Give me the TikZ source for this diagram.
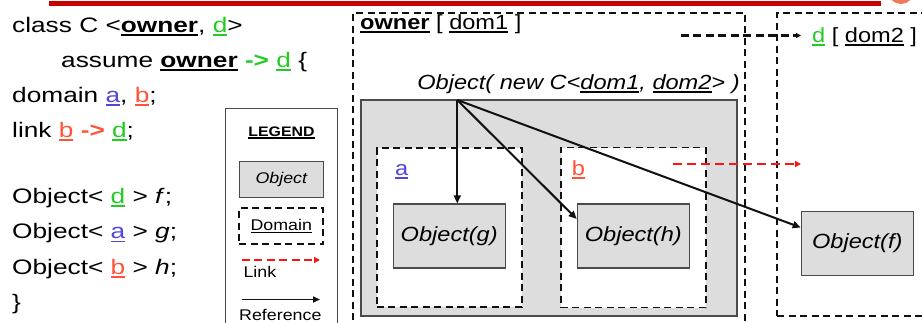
\documentclass[tikz,border=0pt]{standalone}
\usepackage{fontspec}
\setmainfont{Liberation Sans}
\newfontfamily\codefont[FakeStretch=1.25]{Liberation Sans}
\newfontfamily\labelfont[FakeStretch=1.15]{Liberation Sans}
\usepackage{xcolor}
\usetikzlibrary{arrows.meta,positioning}
\definecolor{ink}{HTML}{111111}
\definecolor{topbar}{HTML}{C80000}
\definecolor{blob}{HTML}{EE7B55}
\definecolor{objgray}{HTML}{DDDDDD}
\definecolor{edgegray}{HTML}{4A4A4A}
\definecolor{dgreen}{HTML}{22CC22}
\definecolor{ablue}{HTML}{5048D8}
\definecolor{bred}{HTML}{FF5236}
\definecolor{linkred}{HTML}{FF1414}
\newcommand{\udl}[1]{\mbox{\setbox0=\hbox{#1}\rlap{\rule[-0.36ex]{\wd0}{0.17ex}}\box0}}
\tikzset{
  domain diagram/.style={
    x=1pt,
    y=-1pt,
    line join=miter
  },
  codeline/.style={
    anchor=base west,
    inner sep=0pt,
    font=\codefont\fontsize{21}{25}\selectfont
  },
  labeltext/.style={
    inner sep=0pt,
    font=\labelfont\fontsize{20.5}{24}\selectfont
  },
  keytext/.style={
    inner sep=0pt,
    font=\labelfont\fontsize{15.5}{18}\selectfont
  },
  objbox/.style={
    draw=edgegray,
    fill=objgray,
    line width=1.2pt,
    minimum width=112pt,
    minimum height=64pt,
    font=\labelfont\fontsize{20.5}{24}\selectfont\itshape
  },
  domainbox/.style={
    draw=ink,
    line width=1.9pt,
    dash pattern=on 7pt off 4.5pt
  },
  refarrow/.style={
    -{Triangle[length=8pt,width=7pt]},
    draw=ink,
    line width=2pt
  },
  linkarrow/.style={
    -{Triangle[length=6pt,width=6pt]},
    draw=linkred,
    line width=2.4pt,
    dash pattern=on 9pt off 5pt
  },
  assumearrow/.style={
    -{Triangle[length=5pt,width=5pt]},
    draw=ink,
    line width=2.1pt,
    dash pattern=on 8pt off 4.5pt
  }
}

\begin{document}
\begin{tikzpicture}[domain diagram]
\useasboundingbox (0,0) rectangle (922,322);
\fill[topbar] (49,0.6) rectangle (881,6);
\fill[blob] (901,-9) circle (13pt);

\node[codeline] (cls) at (12,32) {class C <\textbf{\udl{owner}}, \textcolor{dgreen}{\udl{d}}>};
\node[codeline] (assume) at (61,67) {assume \textbf{\udl{owner}} \textcolor{dgreen}{\textbf{->}} \textcolor{dgreen}{\udl{d}} \{};
\node[codeline] (domdecl) at (12,102) {domain \textcolor{ablue}{\udl{a}}, \textcolor{bred}{\udl{b}};};
\node[codeline] (linkdecl) at (12,137) {link \textcolor{bred}{\udl{b} \textbf{->}} \textcolor{dgreen}{\udl{d}};};
\node[codeline] (fdecl) at (12,203) {Object< \textcolor{dgreen}{\udl{d}} > \textit{f};};
\node[codeline] (gdecl) at (12,238.5) {Object< \textcolor{ablue}{\udl{a}} > \textit{g};};
\node[codeline] (hdecl) at (12,274) {Object< \textcolor{bred}{\udl{b}} > \textit{h};};
\node[codeline] (closing) at (12,309.5) {\}};

\node[draw=edgegray, line width=1.1pt, minimum width=112pt, minimum height=240pt] (legend) at (281.3,228.3) {};
\node[keytext, anchor=base, font=\labelfont\fontsize{13.8}{16}\selectfont\bfseries] (keytitle) at (281.5,136) {\udl{LEGEND}};
\node[objbox, minimum width=84pt, minimum height=36pt, font=\labelfont\fontsize{15.5}{18}\selectfont\itshape] (objkey) at (281.3,179.2) {Object};
\node[domainbox, keytext, minimum width=84pt, minimum height=36pt] (domkey) at (281.3,226.2) {\udl{Domain}};
\coordinate (linkkeya) at (241.7,260);
\coordinate (linkkeyb) at (320,260);
\node[keytext, anchor=base west] (linkkey) at (243.3,277.3) {Link};
\coordinate (refkeya) at (241.7,299.5);
\coordinate (refkeyb) at (320,299.5);
\node[keytext, anchor=base west] (refkey) at (239,320.2) {Reference};
\draw[linkarrow, line width=2.2pt, dash pattern=on 8pt off 4.5pt] (linkkeya) -- (linkkeyb);
\draw[refarrow, line width=1.6pt, -{Triangle[length=7pt,width=6pt]}] (refkeya) -- (refkeyb);

\node[domainbox, minimum width=392pt, minimum height=330pt] (owner) at (549.2,177.7) {};
\node[domainbox, minimum width=200pt, minimum height=303pt] (dtwo) at (877,164.2) {};
\node[labeltext, anchor=base west] (ownerlabel) at (360,29.3) {\textbf{\udl{owner}} [ \udl{dom1} ]};
\node[labeltext, anchor=base west, inner xsep=11pt] (dlabel) at (801,42.2) {\textcolor{dgreen}{\udl{d}} [ \udl{dom2} ]};
\coordinate (assumefrom) at (680.7,35.5);

\node[labeltext, anchor=base] (newc) at (578.5,89) {\textit{Object( new C<\udl{dom1}, \udl{dom2}> )}};
\node[draw=edgegray, fill=objgray, line width=1.2pt, minimum width=376pt, minimum height=216pt] (objc) at (549,208) {};
\node[domainbox, fill=white, minimum width=145pt, minimum height=159pt] (doma) at (449.2,227.8) {};
\node[domainbox, fill=white, minimum width=145pt, minimum height=160pt] (domb) at (633.2,227.5) {};
\node[labeltext, anchor=base west] (alabel) at (395,175) {\textcolor{ablue}{\udl{a}}};
\node[labeltext, anchor=base west] (blabel) at (571.7,175) {\textcolor{bred}{\udl{b}}};
\node[objbox] (objg) at (449.2,236) {Object(g)};
\node[objbox] (objh) at (633.3,236) {Object(h)};
\node[objbox] (objf) at (857.3,243.5) {Object(f)};

\coordinate (src) at (457.3,100);
\coordinate (linkfrom) at (673.3,164);
\coordinate (linkto) at (801,164);

\draw[assumearrow] (assumefrom) -- (assumefrom -| dlabel.west);
\draw[linkarrow] (linkfrom) -- (linkto);
\draw[refarrow, line width=2.3pt] (src) -- (src |- objg.north);
\draw[refarrow] (src) -- ([yshift=17pt]objh.west);
\draw[refarrow] (src) -- ([yshift=16pt]objf.west);
\end{tikzpicture}
\end{document}
